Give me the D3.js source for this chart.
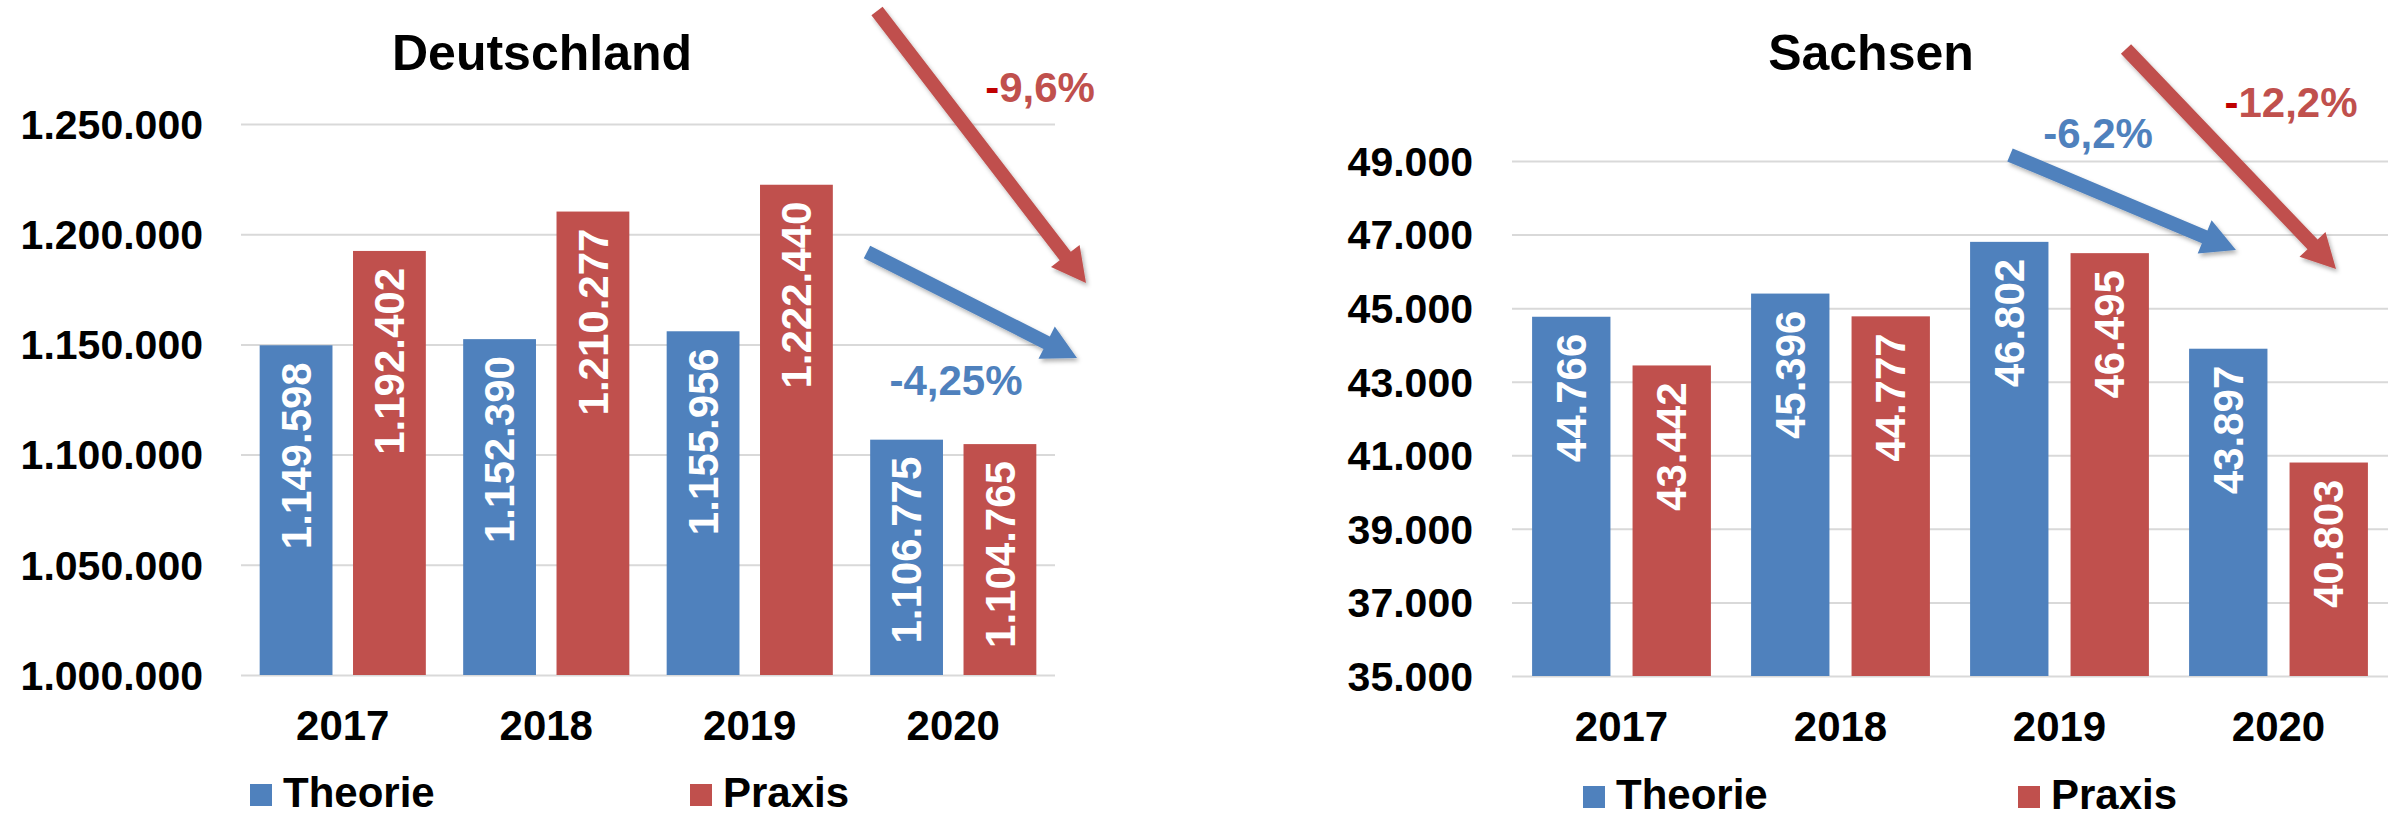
<!DOCTYPE html>
<html><head><meta charset="utf-8">
<script src="https://cdn.jsdelivr.net/npm/d3@7"></script>
<style>
body{margin:0;background:#fff}
svg text{font-family:"Liberation Sans",Arial,sans-serif;font-weight:bold}
</style>
</head><body>
<svg id="chart" width="2408" height="816"></svg>
<script>
// ---- data ----
const years = ["2017", "2018", "2019", "2020"];
const seriesNames = ["Theorie", "Praxis"];
const deTheorie = [1149598, 1152390, 1155956, 1106775];
const dePraxis  = [1192402, 1210277, 1222440, 1104765];
const snTheorie = [44766, 45396, 46802, 43897];
const snPraxis  = [43442, 44777, 46495, 40803];
const deTicks = [1000000, 1050000, 1100000, 1150000, 1200000, 1250000];
const snTicks = [35000, 37000, 39000, 41000, 43000, 45000, 47000, 49000];
const deChanges = ["-4,25%", "-9,6%"];   // Theorie, Praxis
const snChanges = ["-6,2%", "-12,2%"];

// ---- styling ----
const BLUE = "#4f81bd", RED = "#c0504d", DARKRED = "#c00000", GRID = "#d9d9d9";
const colors = [BLUE, RED];
const de = d3.formatLocale({decimal: ",", thousands: ".", grouping: [3], currency: ["", "€"]});
const fmt = de.format(",d");

const svg = d3.select("#chart");
svg.append("rect").attr("width", 2408).attr("height", 816).attr("fill", "#fff");
const defs = svg.append("defs");
const f = defs.append("filter").attr("id", "shadow").attr("x", "-20%").attr("y", "-20%").attr("width", "140%").attr("height", "140%");
f.append("feDropShadow").attr("dx", 2).attr("dy", 3).attr("stdDeviation", 2).attr("flood-color", "#000").attr("flood-opacity", 0.3);

const panels = [
  {title: "Deutschland", theorie: deTheorie, praxis: dePraxis, ticks: deTicks, changes: deChanges,
   left: 241, right: 1055, top: 124, bottom: 675, titleX: 542, tickPad: 38,
   legend: [{x: 250, y: 784}, {x: 690, y: 784}],
   arrows: [ // [start, tip] in px, colour index, label pos
     {s: [867, 252], t: [1077, 358], c: 0, lx: 956, ly: 395},
     {s: [877, 11], t: [1086, 283], c: 1, lx: 1040, ly: 102}
   ]},
  {title: "Sachsen", theorie: snTheorie, praxis: snPraxis, ticks: snTicks, changes: snChanges,
   left: 1512, right: 2388, top: 161, bottom: 676, titleX: 1871, tickPad: 39,
   legend: [{x: 1583, y: 786}, {x: 2018, y: 786}],
   arrows: [
     {s: [2010, 155], t: [2236, 250], c: 0, lx: 2098, ly: 148},
     {s: [2126, 49], t: [2336, 269], c: 1, lx: 2291, ly: 117}
   ]}
];

function arrowPath(s, t, w, hl, hw) {
  const dx = t[0] - s[0], dy = t[1] - s[1];
  const L = Math.hypot(dx, dy), ux = dx / L, uy = dy / L, nx = -uy, ny = ux;
  const bx = t[0] - ux * hl, by = t[1] - uy * hl;
  const p = [
    [s[0] + nx * w / 2, s[1] + ny * w / 2],
    [bx + nx * w / 2, by + ny * w / 2],
    [bx + nx * hw / 2, by + ny * hw / 2],
    t,
    [bx - nx * hw / 2, by - ny * hw / 2],
    [bx - nx * w / 2, by - ny * w / 2],
    [s[0] - nx * w / 2, s[1] - ny * w / 2]
  ];
  return "M" + p.map(q => q[0].toFixed(1) + "," + q[1].toFixed(1)).join("L") + "Z";
}

panels.forEach(P => {
  const g = svg.append("g");
  const x0 = d3.scaleBand().domain(years).range([P.left, P.right]).padding(0);
  const x1 = d3.scaleBand().domain(seriesNames).range([0, x0.bandwidth()]).paddingInner(0.22).paddingOuter(0.2);
  const y = d3.scaleLinear().domain([P.ticks[0], P.ticks[P.ticks.length - 1]]).range([P.bottom, P.top]);

  // gridlines + y labels
  const ya = g.append("g").attr("transform", `translate(${P.left},0)`)
    .call(d3.axisLeft(y).tickValues(P.ticks).tickFormat(fmt)
      .tickSizeInner(-(P.right - P.left)).tickSizeOuter(0).tickPadding(P.tickPad));
  ya.select(".domain").remove();
  ya.selectAll(".tick line").attr("stroke", GRID).attr("stroke-width", 2);
  ya.selectAll(".tick text").attr("font-size", 41).attr("fill", "#000")
    .attr("font-family", '"Liberation Sans",Arial,sans-serif').attr("font-weight", "bold").attr("dy", "0.35em");

  // x labels
  const xa = g.append("g").attr("transform", `translate(0,${P.bottom})`)
    .call(d3.axisBottom(x0).tickSize(0).tickPadding(35));
  xa.select(".domain").remove();
  xa.selectAll(".tick text").attr("font-size", 42).attr("fill", "#000")
    .attr("font-family", '"Liberation Sans",Arial,sans-serif').attr("font-weight", "bold");

  // bars
  const rows = years.map((yr, i) => ({year: yr, vals: [P.theorie[i], P.praxis[i]]}));
  const grp = g.selectAll("g.year").data(rows).join("g").attr("class", "year")
    .attr("transform", d => `translate(${x0(d.year)},0)`);
  const cells = grp.selectAll("g.cell").data(d => d.vals.map((v, k) => ({v, k}))).join("g").attr("class", "cell");
  cells.append("rect")
    .attr("x", d => x1(seriesNames[d.k]))
    .attr("width", x1.bandwidth())
    .attr("y", d => y(d.v))
    .attr("height", d => P.bottom - y(d.v))
    .attr("fill", d => colors[d.k]);
  cells.append("text")
    .attr("transform", d => `translate(${x1(seriesNames[d.k]) + x1.bandwidth() / 2},${y(d.v) + 17}) rotate(-90)`)
    .attr("text-anchor", "end").attr("dy", "0.35em")
    .attr("font-size", 42).attr("fill", "#fff")
    .text(d => fmt(d.v));

  // title
  g.append("text").attr("x", P.titleX).attr("y", 70).attr("text-anchor", "middle")
    .attr("font-size", 50).attr("fill", "#000").text(P.title);

  // legend
  seriesNames.forEach((n, k) => {
    const L = P.legend[k];
    g.append("rect").attr("x", L.x).attr("y", L.y).attr("width", 22).attr("height", 22).attr("fill", colors[k]);
    g.append("text").attr("x", L.x + 33).attr("y", L.y + 23).attr("font-size", 42).attr("fill", "#000").text(n);
  });

  // arrows + change labels
  P.arrows.forEach((A, k) => {
    g.append("path").attr("d", arrowPath(A.s, A.t, 14, 34, 36))
      .attr("fill", colors[A.c]).attr("filter", "url(#shadow)");
    const label = P.changes[k];
    const t = g.append("text").attr("x", A.lx).attr("y", A.ly).attr("text-anchor", "middle")
      .attr("font-size", 42).attr("fill", colors[A.c]);
    if (A.c === 1) {
      t.append("tspan").attr("fill", DARKRED).text(label.slice(0, 1));
      t.append("tspan").text(label.slice(1));
    } else {
      t.text(label);
    }
  });
});
</script>
</body></html>
